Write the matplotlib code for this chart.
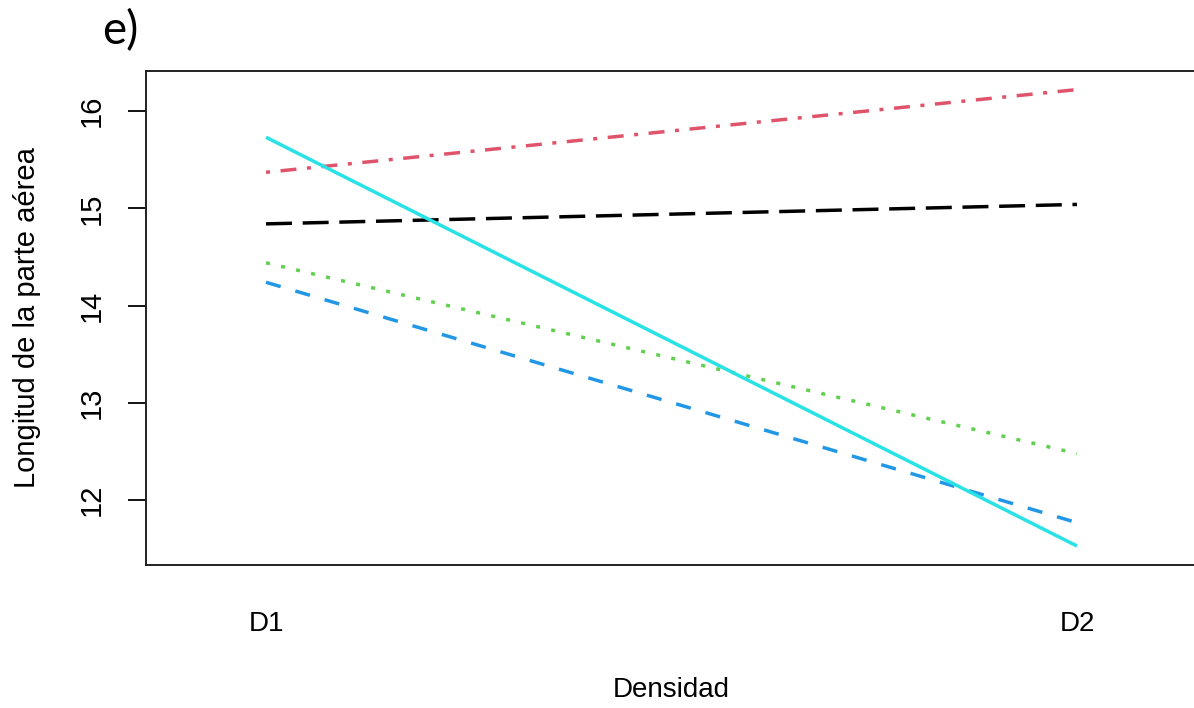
import matplotlib
matplotlib.use("Agg")
import matplotlib.pyplot as plt

plt.rcParams["font.family"] = ["Liberation Sans", "DejaVu Sans"]
plt.rcParams["lines.scale_dashes"] = False

densidad = ["D1", "D2"]
# one series per level of the trace factor
serie_negra = [14.84, 15.04]
serie_roja = [15.37, 16.22]
serie_verde = [14.44, 12.48]
serie_azul = [14.24, 11.77]
serie_cian = [15.73, 11.53]

y_ticks = [12, 13, 14, 15, 16]

series = [
    (serie_negra, "#000000", (0, (18.7, 7.7))),
    (serie_roja, "#DF536B", (0, (2.9, 7.6, 11.5, 7.6))),
    (serie_verde, "#61D04F", (0, (2.9, 8.2))),
    (serie_azul, "#2297E6", (0, (11.0, 11.0))),
    (serie_cian, "#28E2E5", "-"),
]

fig = plt.figure(figsize=(11.94, 7.08), dpi=100)
ax = fig.add_axes([146 / 1194, 1 - 565 / 708, (1197 - 146) / 1194, (565 - 70.7) / 708])

x = [1, 2]
for valores, color, estilo in series:
    ax.plot(x, valores, color=color, linestyle=estilo, linewidth=2.5,
            solid_capstyle="butt", dash_capstyle="butt")

ax.set_xlim(0.852, 2.148)
ax.set_ylim(11.335, 16.414)

ax.set_xticks(x)
ax.set_xticklabels(densidad, fontsize=20)
ax.tick_params(axis="x", length=0, pad=33)

ax.set_yticks(y_ticks)
ax.set_yticklabels([str(v) for v in y_ticks], fontsize=21, rotation=90,
                   va="center")
ax.tick_params(axis="y", length=13, width=1.3, pad=16)

for lado in ax.spines.values():
    lado.set_linewidth(1.4)
    lado.set_color("#222222")

fig.text(671 / 1194, 1 - 690 / 708, "Densidad", fontsize=20,
         ha="center", va="center")
fig.text(27 / 1194, 1 - 318 / 708, "Longitud de la parte aérea", fontsize=21,
         rotation=90, ha="center", va="center")
fig.text(102 / 1194, 1 - 31 / 708, "e)", fontsize=33, family=["Lato", "DejaVu Sans"],
         ha="left", va="center")

fig.savefig("out.png", dpi=100)
